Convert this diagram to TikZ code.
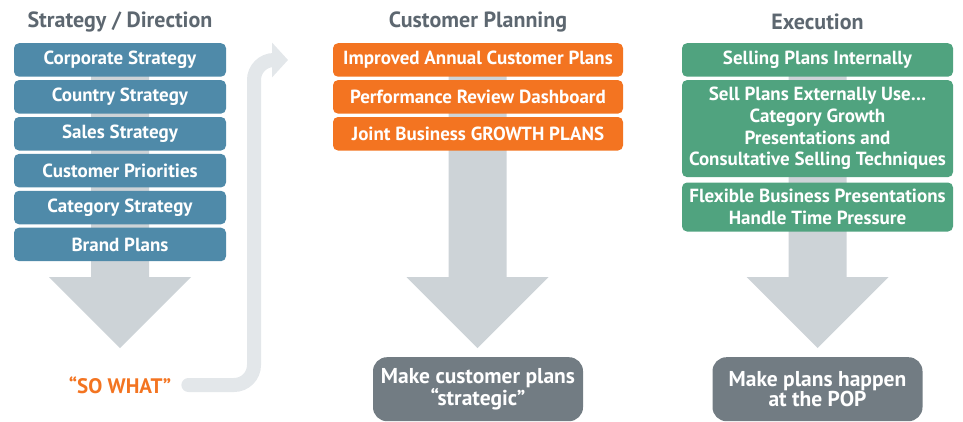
\documentclass[tikz,border=0pt]{standalone}
\usepackage{fontspec}
\setmainfont{PT Sans}
\usepackage{xcolor}
\usepackage{tikz}
\usetikzlibrary{arrows.meta,positioning}
\definecolor{SPblue}{HTML}{4F8AA9}
\definecolor{SPorange}{HTML}{F37421}
\definecolor{SPgreen}{HTML}{50A37F}
\definecolor{SPdark}{HTML}{727C83}
\definecolor{SPtitle}{HTML}{5D6770}
\definecolor{SParrow}{HTML}{CDD3D7}
\definecolor{SPbend}{HTML}{E3E7EA}

\tikzset{
  coltitle/.style={font=\bfseries\fontsize{22}{24}\selectfont, text=SPtitle, inner sep=0pt},
  stepbox/.style={rectangle, rounded corners=5pt, inner sep=0pt, minimum height=33.5pt,
    text=white, align=center, font=\bfseries\fontsize{19}{21.7}\selectfont},
  goalbox/.style={rectangle, rounded corners=14pt, inner sep=0pt, fill=SPdark,
    minimum width=210pt, minimum height=64pt, text=white, align=center,
    font=\bfseries\fontsize{21.5}{19}\selectfont},
}

\begin{document}
\begin{tikzpicture}[x=1pt,y=1pt]
  \useasboundingbox (0,0) rectangle (963,-421);
  % broad arrows behind each column
  \foreach \cx in {120,477.5,817.5}
    \fill[SParrow] (\cx-29,-43) -- (\cx+29,-43) -- (\cx+29,-277) -- (\cx+71,-277)
      -- (\cx,-348) -- (\cx-71,-277) -- (\cx-29,-277) -- cycle;

  % strategy / direction
  \node[coltitle] (stratT) at (120,-22) {Strategy / Direction};
  \node[stepbox, fill=SPblue, minimum width=212pt, anchor=north] (corp) at (120,-43) {Corporate Strategy};
  \node[stepbox, fill=SPblue, minimum width=212pt, below=3pt of corp] (country) {Country Strategy};
  \node[stepbox, fill=SPblue, minimum width=212pt, below=3pt of country] (sales) {Sales Strategy};
  \node[stepbox, fill=SPblue, minimum width=212pt, below=3pt of sales] (custprio) {Customer Priorities};
  \node[stepbox, fill=SPblue, minimum width=212pt, below=3pt of custprio] (catstrat) {Category Strategy};
  \node[stepbox, fill=SPblue, minimum width=212pt, below=3pt of catstrat] (brand) {Brand Plans};
  \node[font=\bfseries\fontsize{21}{23}\selectfont, text=SPorange, inner sep=0pt] (sowhat) at (120,-385) {“SO WHAT”};

  % customer planning
  \node[coltitle] (planT) at (478,-22) {Customer Planning};
  \node[stepbox, fill=SPorange, minimum width=290pt, anchor=north] (annual) at (478,-43) {Improved Annual Customer Plans};
  \node[stepbox, fill=SPorange, minimum width=290pt, below=3pt of annual] (review) {Performance Review Dashboard};
  \node[stepbox, fill=SPorange, minimum width=290pt, below=3pt of review] (joint) {Joint Business GROWTH PLANS};
  \node[goalbox, anchor=north] (stratgoal) at (478,-357) {Make customer plans\\“strategic”};

  % execution
  \node[coltitle] (execT) at (817.5,-22) {Execution};
  \node[stepbox, fill=SPgreen, minimum width=271pt, anchor=north] (internal) at (817.5,-43) {Selling Plans Internally};
  \node[stepbox, fill=SPgreen, minimum width=271pt, minimum height=97pt, below=3pt of internal] (external)
    {Sell Plans Externally Use…\\Category Growth\\Presentations and\\Consultative Selling Techniques};
  \node[stepbox, fill=SPgreen, minimum width=271pt, minimum height=49pt, below=5pt of external] (flexible)
    {Flexible Business Presentations\\Handle Time Pressure};
  \node[goalbox, anchor=north] (popgoal) at (817.5,-357) {Make plans happen\\at the POP};

  % so what -> customer planning
  \coordinate (bendtop) at (254,-60);
  \coordinate (planin) at (288,-60);
  \draw[SPbend, line width=14pt, line cap=round, rounded corners=20pt,
    -{Triangle[width=34pt,length=16pt]}] ([xshift=17pt]sowhat.east) -| (bendtop) -- (planin);
\end{tikzpicture}
\end{document}
